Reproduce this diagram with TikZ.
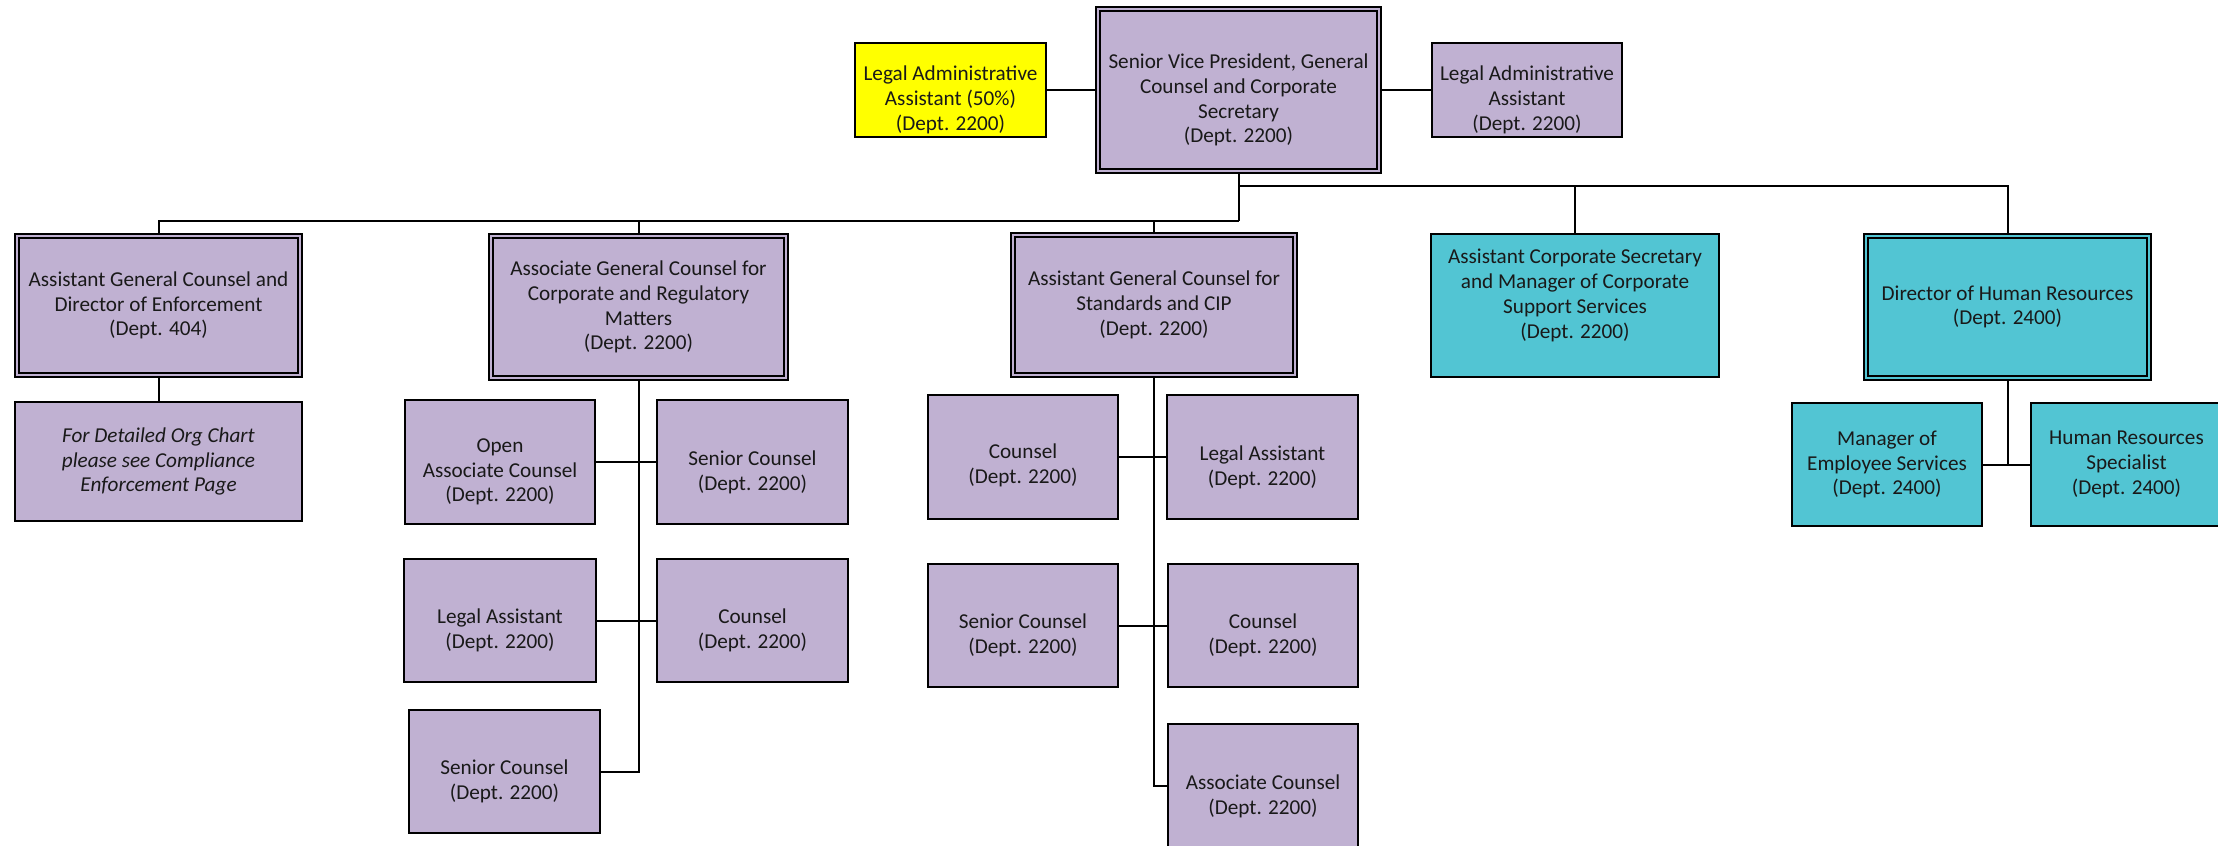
\documentclass[tikz,border=0pt]{standalone}
\usepackage{fontspec}
\setmainfont{Carlito}
\usetikzlibrary{fit}
\definecolor{lav}{RGB}{192,177,210}
\definecolor{tealbg}{RGB}{82,197,211}
\definecolor{yel}{RGB}{255,255,0}
\newcommand\orgfont{\fontsize{10.6}{12.4}\selectfont}
\tikzset{
  base/.style={draw=black, line width=1.1pt, inner sep=0pt},
  lavbox/.style={base, fill=lav},
  tealbox/.style={base, fill=tealbg},
  yelbox/.style={base, fill=yel},
  dbl/.style={draw=black, line width=1pt, double distance=1.4pt, inner sep=0pt},
  dbllav/.style={dbl, double=lav, fill=lav},
  dblteal/.style={dbl, double=tealbg, fill=tealbg},
  txt/.style={align=center, font=\orgfont, inner sep=0pt, text=black!90},
  dn/.style={yshift=-5pt},
  up/.style={yshift=5pt},
  conn/.style={draw=black, line width=1pt},
}
\begin{document}
\begin{tikzpicture}[x=0.5pt,y=-0.5pt]
\useasboundingbox (0,0) rectangle (2218,846);
\fill[white] (0,0) rectangle (2218,846);
% top row
\node[dbllav, fit={(1098,9) (1379,171)}] (svp) {};
\node[yelbox, fit={(855,43) (1046,137)}] (yla) {};
\node[lavbox, fit={(1432,43) (1622,137)}] (rla) {};
% second row
\node[dbllav, fit={(17,236) (300,375)}] (enf) {};
\node[dbllav, fit={(491,236) (786,378)}] (agcc) {};
\node[dbllav, fit={(1013,235) (1295,375)}] (agcs) {};
\node[tealbox, fit={(1431,234) (1719,377)}] (acs) {};
\node[dblteal, fit={(1866,236) (2149,378)}] (dhr) {};
% lower boxes
\node[lavbox, fit={(15,402) (302,521)}] (det) {};
\node[lavbox, fit={(405,400) (595,524)}] (oac) {};
\node[lavbox, fit={(657,400) (848,524)}] (sc1) {};
\node[lavbox, fit={(404,559) (596,682)}] (la1) {};
\node[lavbox, fit={(657,559) (848,682)}] (c1) {};
\node[lavbox, fit={(409,710) (600,833)}] (sc2) {};
\node[lavbox, fit={(928,395) (1118,519)}] (c2) {};
\node[lavbox, fit={(1167,395) (1358,519)}] (la2) {};
\node[lavbox, fit={(928,564) (1118,687)}] (sc3) {};
\node[lavbox, fit={(1168,564) (1358,687)}] (c3) {};
\node[lavbox, fit={(1168,724) (1358,848)}] (ac3) {};
\node[tealbox, fit={(1792,403) (1982,526)}] (mes) {};
\node[tealbox, fit={(2031,403) (2222,526)}] (hrs) {};
% texts
\node[txt, dn] (svpT) at (svp.center) {Senior Vice President, General\\Counsel and Corporate\\Secretary\\(Dept. 2200)};
\node[txt, dn] (ylaT) at (yla.center) {Legal Administrative\\Assistant (50\%)\\(Dept. 2200)};
\node[txt, dn] (rlaT) at (rla.center) {Legal Administrative\\Assistant\\(Dept. 2200)};
\node[txt] (enfT) at (enf.center) {Assistant General Counsel and\\Director of Enforcement\\(Dept. 404)};
\node[txt] (agccT) at (agcc.center) {Associate General Counsel for\\Corporate and Regulatory\\Matters\\(Dept. 2200)};
\node[txt] (agcsT) at (agcs.center) {Assistant General Counsel for\\Standards and CIP\\(Dept. 2200)};
\node[txt, up] (acsT) at (acs.center) {Assistant Corporate Secretary\\and Manager of Corporate\\Support Services\\(Dept. 2200)};
\node[txt] (dhrT) at (dhr.center) {Director of Human Resources\\(Dept. 2400)};
\node[txt] (detT) at (det.center) {\itshape For Detailed Org Chart\\\itshape please see Compliance\\\itshape Enforcement Page};
\node[txt, dn] (oacT) at (oac.center) {Open\\Associate Counsel\\(Dept. 2200)};
\node[txt, dn] (sc1T) at (sc1.center) {Senior Counsel\\(Dept. 2200)};
\node[txt, dn] (la1T) at (la1.center) {Legal Assistant\\(Dept. 2200)};
\node[txt, dn] (c1T) at (c1.center) {Counsel\\(Dept. 2200)};
\node[txt, dn] (sc2T) at (sc2.center) {Senior Counsel\\(Dept. 2200)};
\node[txt, yshift=-4pt] (c2T) at (c2.center) {Counsel\\(Dept. 2200)};
\node[txt, dn] (la2T) at (la2.center) {Legal Assistant\\(Dept. 2200)};
\node[txt, dn] (sc3T) at (sc3.center) {Senior Counsel\\(Dept. 2200)};
\node[txt, dn] (c3T) at (c3.center) {Counsel\\(Dept. 2200)};
\node[txt, dn] (ac3T) at (ac3.center) {Associate Counsel\\(Dept. 2200)};
\node[txt] (mesT) at (mes.center) {Manager of\\Employee Services\\(Dept. 2400)};
\node[txt] (hrsT) at (hrs.center) {Human Resources\\Specialist\\(Dept. 2400)};
% connectors
\coordinate (busU) at (0,186);
\coordinate (busL) at (0,221);
\draw[conn] (yla.east) -- (svp.west);
\draw[conn] (svp.east) -- (rla.west);
\draw[conn] (svp.south) -- (svp.south |- busL);
\draw[conn] (svp.south |- busU) -| (dhr.north);
\draw[conn] (acs.north) -- (acs.north |- busU);
\draw[conn] (svp.south |- busL) -| (enf.north);
\draw[conn] (agcc.north) -- (agcc.north |- busL);
\draw[conn] (agcs.north) -- (agcs.north |- busL);
\draw[conn] (enf.south) -- (det.north);
\draw[conn] (agcc.south) |- (sc2.east);
\draw[conn] (oac.east) -- (sc1.west);
\draw[conn] (la1.east) -- (c1.west);
\draw[conn] (agcs.south) |- (ac3.west);
\draw[conn] (c2.east) -- (la2.west);
\draw[conn] (sc3.east) -- (c3.west);
\draw[conn] (dhr.south) -- (dhr.south |- mes.east);
\draw[conn] (mes.east) -- (hrs.west);
\end{tikzpicture}
\end{document}
